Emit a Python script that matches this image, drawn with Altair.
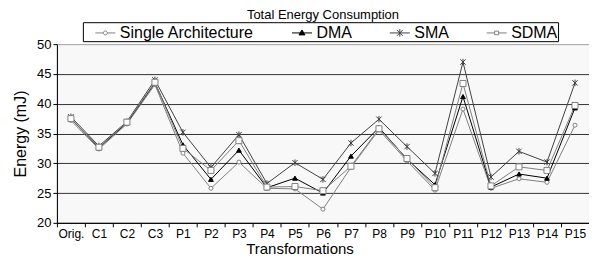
import altair as alt
import pandas as pd

categories = ["Orig.", "C1", "C2", "C3", "P1", "P2", "P3", "P4", "P5", "P6",
              "P7", "P8", "P9", "P10", "P11", "P12", "P13", "P14", "P15"]
series = ["Single Architecture", "DMA", "SMA", "SDMA"]

single = [37.2, 32.4, 36.6, 43.2, 31.7, 25.8, 30.2, 25.8, 25.7, 22.3,
          29.3, 35.6, 30.4, 25.5, 39.1, 25.8, 27.4, 26.8, 36.4]
dma = [37.5, 32.6, 36.8, 43.5, 33.1, 27.3, 32.2, 25.9, 27.5, 25.0,
       31.2, 36.0, 30.7, 26.4, 41.2, 26.0, 28.2, 27.5, 39.3]
sma = [37.8, 32.9, 37.0, 44.0, 35.2, 29.3, 34.8, 26.6, 30.1, 27.3,
       33.4, 37.4, 32.8, 28.3, 47.0, 27.7, 32.0, 30.2, 43.5]
sdma = [37.5, 32.7, 36.9, 43.6, 32.5, 28.8, 33.8, 26.0, 26.1, 25.4,
        29.5, 35.8, 30.8, 25.9, 43.4, 26.2, 29.4, 28.8, 39.7]

y_ticks = [20, 25, 30, 35, 40, 45, 50]

stroke_colors = ["#808080", "#000000", "#404040", "#808080"]
fill_colors = ["#ffffff", "#000000", "#404040", "#ffffff"]
marker_shapes = ["circle", "triangle-up", "M-1,-1L1,1M-1,1L1,-1M0,-1.2L0,1.2", "square"]
marker_sizes = [16, 36, 49, 22]
legend_shapes = [
    "M-1,0H-0.2M0.2,0H1M-0.2,0A0.2,0.2 0 1,0 0.2,0A0.2,0.2 0 1,0 -0.2,0Z",
    "M-1,0H1M0,-0.3L0.3,0.2L-0.3,0.2Z",
    "M-1,0H1M-0.3,-0.3L0.3,0.3M-0.3,0.3L0.3,-0.3M0,-0.38V0.38",
    "M-1,0H-0.2M0.2,0H1M-0.2,-0.18H0.2V0.18H-0.2Z",
]

rows = []
for name, vals in zip(series, [single, dma, sma, sdma]):
    for c, v in zip(categories, vals):
        rows.append({"Category": c, "Energy": v, "Series": name})
df = pd.DataFrame(rows)

FONT = "Liberation Sans"

x_enc = alt.X(
    "Category:N", sort=categories, bandPosition=0.5,
    scale=alt.Scale(type="band", paddingInner=0, paddingOuter=0),
    axis=alt.Axis(title="Transformations", labelAngle=0, tickBand="extent",
                  tickSize=4, labelFontSize=12, labelPadding=2,
                  titleFontSize=15, titleFontWeight="normal", titlePadding=2,
                  titleX=243, grid=False, domainColor="black", tickColor="black",
                  labelColor="black", titleColor="black"),
)
y_enc = alt.Y(
    "Energy:Q", scale=alt.Scale(domain=[20, 50], nice=False, zero=False),
    axis=alt.Axis(title="Energy (mJ)", values=y_ticks, tickSize=4,
                  labelFontSize=13, labelPadding=2, titleFontSize=16,
                  titleFontWeight="normal", titlePadding=8,
                  grid=True, gridColor="#333333", gridWidth=1,
                  gridOpacity={"condition": {"test": "datum.value === 50", "value": 0}, "value": 1},
                  domainColor="black", tickColor="black", labelColor="black",
                  titleColor="black"),
)

lines = alt.Chart(df).mark_line(strokeWidth=1).encode(
    x=x_enc, y=y_enc,
    stroke=alt.Stroke("Series:N", scale=alt.Scale(domain=series, range=stroke_colors), legend=None),
)

points = alt.Chart(df).mark_point(filled=True, opacity=1, strokeWidth=1).encode(
    x=x_enc, y=y_enc,
    shape=alt.Shape("Series:N", scale=alt.Scale(domain=series, range=marker_shapes), legend=None),
    stroke=alt.Stroke("Series:N", scale=alt.Scale(domain=series, range=stroke_colors), legend=None),
    fill=alt.Fill("Series:N", scale=alt.Scale(domain=series, range=fill_colors), legend=None),
    size=alt.Size("Series:N", scale=alt.Scale(domain=series, range=marker_sizes), legend=None),
)

leg = alt.Legend(title=" ", labelExpr="datum.label == 'SDMA' ? 'SDMA    ' : datum.label")
legend_layer = alt.Chart(df).transform_filter("false").mark_point(
    filled=True, opacity=1, size=400, strokeWidth=1
).encode(
    x=x_enc, y=y_enc,
    shape=alt.Shape("Series:N", scale=alt.Scale(domain=series, range=legend_shapes), legend=leg),
    stroke=alt.Stroke("Series:N", scale=alt.Scale(domain=series, range=stroke_colors), legend=leg),
    fill=alt.Fill("Series:N", scale=alt.Scale(domain=series, range=fill_colors), legend=leg),
)

chart = alt.layer(lines, points, legend_layer).resolve_scale(
    shape="independent", stroke="independent", fill="independent", size="independent"
).properties(
    width=533, height=179,
    title=alt.TitleParams("Total Energy Consumption", fontSize=13, font=FONT,
                          fontWeight="normal", offset=0, anchor="middle", color="black"),
    autosize=alt.AutoSizeParams(type="none"),
    padding={"left": 49, "top": 36, "right": 0, "bottom": 35},
).configure(font=FONT).configure_view(
    stroke="#a0a0a0", fill="#f8f8f8", strokeWidth=1
).configure_axis(labelFont=FONT, titleFont=FONT).configure_legend(
    orient="none", legendX=26, legendY=-22, direction="horizontal", columns=4,
    strokeColor="black", fillColor="white", padding=0, symbolSize=400,
    symbolStrokeWidth=1, labelFont=FONT, labelFontSize=16, labelColor="black",
    labelOffset=4, columnPadding=35, titleOrient="left", titlePadding=12,
    titleFontSize=15, titleFont=FONT, labelLimit=300,
)

chart.save("out.html", embed_options={"renderer": "svg", "actions": False})
